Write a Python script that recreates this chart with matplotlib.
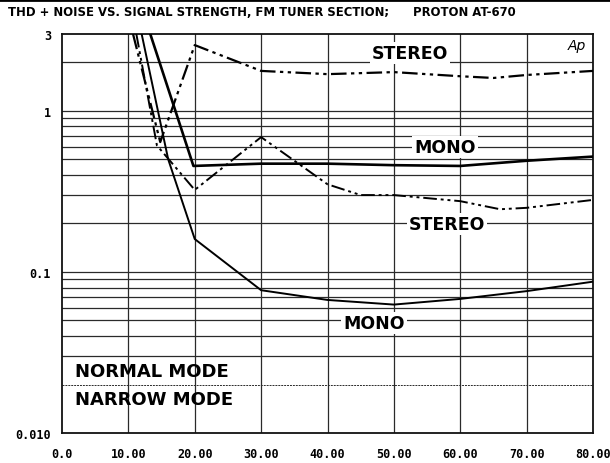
import matplotlib
matplotlib.use("Agg")
import matplotlib.pyplot as plt
from matplotlib.ticker import FixedLocator, NullLocator

# Data (signal strength in dBf, THD+N in %)
mono_normal_x = [13.3, 19.8, 30, 40, 50, 60, 70, 80]
mono_normal_y = [3.0, 0.455, 0.47, 0.47, 0.46, 0.455, 0.49, 0.52]

stereo_normal_x = [10.7, 14.8, 20, 30, 40, 50, 60, 65, 70, 80]
stereo_normal_y = [3.0, 0.64, 2.56, 1.77, 1.69, 1.74, 1.64, 1.60, 1.67, 1.77]

mono_narrow_x = [12.0, 16.0, 20, 30, 40, 50, 60, 70, 80]
mono_narrow_y = [3.0, 0.50, 0.16, 0.077, 0.067, 0.0627, 0.068, 0.076, 0.087]

stereo_narrow_x = [11.2, 14.3, 20, 30, 40, 45, 50, 60, 66, 70, 80]
stereo_narrow_y = [3.0, 0.61, 0.323, 0.687, 0.35, 0.30, 0.30, 0.275, 0.245, 0.25, 0.28]

x_ticks = [0, 10, 20, 30, 40, 50, 60, 70, 80]
x_tick_labels = ["0.0", "10.00", "20.00", "30.00", "40.00", "50.00", "60.00", "70.00", "80.00"]
y_ticks = [0.01, 0.1, 1, 3]
y_tick_labels = ["0.010", "0.1", "1", "3"]
h_grid = [0.02, 0.03, 0.04, 0.05, 0.06, 0.07, 0.08, 0.09, 0.1,
          0.2, 0.3, 0.4, 0.5, 0.6, 0.7, 0.8, 0.9, 1.0, 2.0]

title = "THD + NOISE VS. SIGNAL STRENGTH, FM TUNER SECTION;      PROTON AT-670"

fig = plt.figure(figsize=(6.10, 4.64), dpi=100)
ax = fig.add_axes([62/610, 30/464, (593-62)/610, (434-35)/464])
ax.set_yscale("log")
ax.set_xlim(0, 80)
ax.set_ylim(0.01, 3)

gc = "#2a2a2a"
for v in h_grid:
    ax.axhline(v, color=gc, lw=0.9 if v != 0.02 else 0.7,
               ls="-" if v != 0.02 else (0, (2, 1)), zorder=1)
for xv in x_ticks[1:-1]:
    ax.axvline(xv, color=gc, lw=0.9, zorder=1)

dd = (0, (7, 2, 1.5, 2, 1.5, 2))
ax.plot(stereo_normal_x, stereo_normal_y, color="black", lw=1.6, ls=dd, zorder=3)
ax.plot(mono_normal_x, mono_normal_y, color="black", lw=1.9, zorder=3)
ax.plot(stereo_narrow_x, stereo_narrow_y, color="black", lw=1.4, ls=dd, zorder=3)
ax.plot(mono_narrow_x, mono_narrow_y, color="black", lw=1.4, zorder=3)

ax.xaxis.set_major_locator(FixedLocator(x_ticks))
ax.set_xticklabels(x_tick_labels)
ax.yaxis.set_major_locator(FixedLocator(y_ticks))
ax.yaxis.set_minor_locator(NullLocator())
ax.set_yticklabels(y_tick_labels)
ax.tick_params(axis="both", length=0, labelsize=8.5)
ax.tick_params(axis="x", pad=10)
ax.tick_params(axis="y", pad=8)
for lab in ax.get_xticklabels() + ax.get_yticklabels():
    lab.set_fontweight("bold")
    lab.set_family("DejaVu Sans Mono")
for s in ax.spines.values():
    s.set_linewidth(1.3)
    s.set_color("#111111")

box = dict(facecolor="white", edgecolor="none", pad=1.5)
tk = dict(fontsize=12.5, fontweight="bold", family="DejaVu Sans", zorder=4, bbox=box,
          ha="center", va="center")
ax.text(52.4, 2.3, "STEREO", **tk)
ax.text(57.7, 0.595, "MONO", **tk)
ax.text(58.0, 0.198, "STEREO", **tk)
ax.text(47.0, 0.048, "MONO", **tk)
ax.text(1.9, 0.0244, "NORMAL MODE", fontsize=13, fontweight="bold", family="DejaVu Sans",
        ha="left", va="center", zorder=4)
ax.text(1.9, 0.0162, "NARROW MODE", fontsize=13, fontweight="bold", family="DejaVu Sans",
        ha="left", va="center", zorder=4)
ax.text(79, 2.55, "Ap", fontsize=10, style="italic", ha="right", va="center", zorder=4)

fig.text(8/610, 1 - 13/464, title, fontsize=8.4, fontweight="bold",
         family="DejaVu Sans", ha="left", va="center")
fig.add_artist(plt.Line2D([0, 1], [1 - 1/464, 1 - 1/464], color="black", lw=2,
                          transform=fig.transFigure))

fig.savefig("out.png", dpi=100)
